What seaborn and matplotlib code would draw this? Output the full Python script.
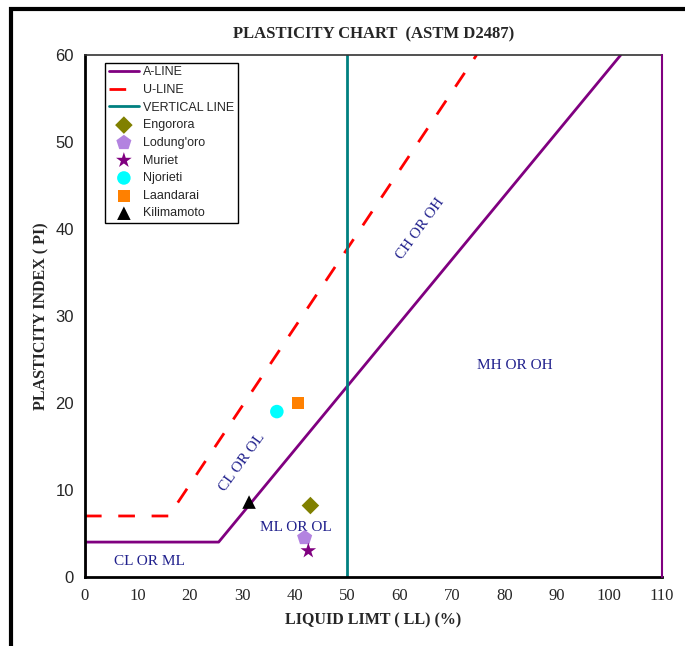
import pandas as pd
import seaborn as sns
import matplotlib.pyplot as plt
from matplotlib.patches import Rectangle

# boundary lines
a_ll = [0, 0, 25.5, 102.2]
a_pi = [0, 4, 4, 60]
edge_ll = [110, 110]
edge_pi = [60, 0]
u_ll = [0, 16, 74.7]
u_pi = [7, 7, 60]
v_ll = [50, 50]
v_pi = [0, 60]

# sample points
samples = ["Engorora", "Lodung'oro", "Muriet", "Njorieti", "Laandarai", "Kilimamoto"]
sample_ll = [43.0, 41.9, 42.6, 36.6, 40.6, 31.3]
sample_pi = [8.2, 4.5, 3.0, 19.0, 20.0, 8.6]
sample_markers = ["D", "p", "*", "o", "s", "^"]
sample_colors = ["#808000", "#B383E0", "#800080", "#00FFFF", "#FF8000", "#000000"]
sample_sizes = [80, 130, 140, 95, 75, 95]

# zone labels
zone_text = ["CH OR OH", "MH OR OH", "CL OR OL", "ML OR OL", "CL OR ML"]
zone_ll = [64.0, 82.0, 30.0, 40.3, 12.3]
zone_pi = [40.0, 24.3, 13.2, 5.7, 1.8]
zone_rot = [54, 0, 54, 0, 0]

sns.set_style("white")
serif = ["Liberation Serif", "DejaVu Serif"]
sans = ["Liberation Sans", "DejaVu Sans"]

fig = plt.figure(figsize=(6.85, 6.46), dpi=100)
ax = fig.add_axes([0.124, 0.107, 0.842, 0.808])

sns.lineplot(x=a_ll, y=a_pi, sort=False, estimator=None, color="#800080",
             lw=2, ax=ax, label="A-LINE")
sns.lineplot(x=edge_ll, y=edge_pi, sort=False, estimator=None, color="#800080",
             lw=1.5, ax=ax, legend=False)
ax.lines[-1].set_clip_on(False)
ax.lines[-1].set_zorder(3)
sns.lineplot(x=u_ll, y=u_pi, sort=False, estimator=None, color="#FF0000",
             lw=2, ax=ax, label="U-LINE")
ax.lines[-1].set_dashes([6, 6])
sns.lineplot(x=v_ll, y=v_pi, sort=False, estimator=None, color="#008080",
             lw=2, ax=ax, label="VERTICAL LINE")

for name, x, y, m, c, s in zip(samples, sample_ll, sample_pi, sample_markers,
                               sample_colors, sample_sizes):
    sns.scatterplot(x=[x], y=[y], marker=m, color=c, s=s, edgecolor="none",
                    ax=ax, label=name, zorder=5)

for t, x, y, r in zip(zone_text, zone_ll, zone_pi, zone_rot):
    ax.text(x, y, t, rotation=r, ha="center", va="center", color="#1F1F8C",
            fontsize=11, family=serif)

ax.set_xlim(0, 110)
ax.set_ylim(0, 60)
ax.set_xticks(range(0, 111, 10))
ax.set_yticks(range(0, 61, 10))
ax.tick_params(length=0, pad=8)
for lab in ax.get_xticklabels():
    lab.set_fontfamily(serif)
    lab.set_fontsize(12)
for lab in ax.get_yticklabels():
    lab.set_fontfamily(sans)
    lab.set_fontsize(12)

for side in ["left", "bottom"]:
    ax.spines[side].set_color("black")
    ax.spines[side].set_linewidth(2)
for side in ["top", "right"]:
    ax.spines[side].set_color("#333333")
    ax.spines[side].set_linewidth(1.2)

ax.set_xlabel("LIQUID LIMT ( LL) (%)", family=serif, fontweight="bold",
              fontsize=11.5, labelpad=6)
ax.set_ylabel("PLASTICITY INDEX ( PI)", family=serif, fontweight="bold",
              fontsize=11.5, labelpad=4)
ax.set_title("PLASTICITY CHART  (ASTM D2487)", family=serif, fontweight="bold",
             fontsize=12, pad=12)

leg = ax.legend(loc="upper left", bbox_to_anchor=(0.035, 0.985), frameon=True,
                fancybox=False, edgecolor="black", framealpha=1,
                prop={"family": sans, "size": 9}, handlelength=2.4,
                handletextpad=0.3, borderpad=0.3, labelspacing=0.45,
                borderaxespad=0)
leg.get_frame().set_linewidth(1)

# outer chart-area border
fig.patches.append(Rectangle((11 / 685, -0.1), 1.2, 1.1 - 9 / 646,
                             transform=fig.transFigure, fill=False,
                             edgecolor="black", lw=3))

fig.savefig("out.png", dpi=100)
